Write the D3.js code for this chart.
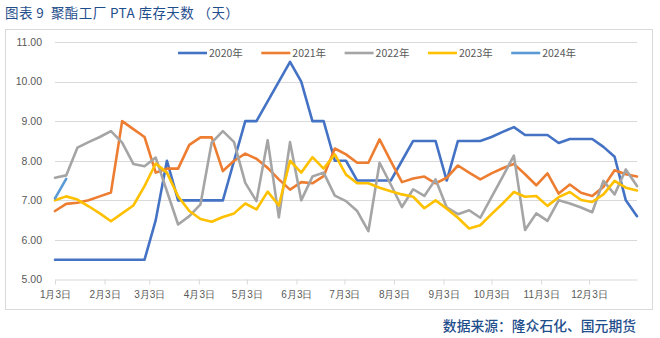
<!DOCTYPE html>
<html>
<head>
<meta charset="utf-8">
<script src="https://cdn.jsdelivr.net/npm/d3@7"></script>
<style>
  html, body { margin: 0; padding: 0; background: #fff; }
  svg { display: block; font-family: "Noto Sans CJK SC", "Noto Sans", sans-serif; }
</style>
</head>
<body>
<div id="chart"></div>
<script>
// Weekly PTA inventory days at polyester plants, one series per year
const seriesNames = ["2020年", "2021年", "2022年", "2023年", "2024年"];
const seriesColors = ["#4472C4", "#ED7D31", "#A5A5A5", "#FFC000", "#5B9BD5"];

const v2020 = [5.5, 5.5, 5.5, 5.5, 5.5, 5.5, 5.5, 5.5, 5.5, 6.5,
  8.0, 7.0, 7.0, 7.0, 7.0, 7.0, 8.0, 9.0, 9.0, 9.5,
  10.0, 10.5, 10.0, 9.0, 9.0, 8.0, 8.0, 7.5, 7.5, 7.5,
  7.5, 8.0, 8.5, 8.5, 8.5, 7.5, 8.5, 8.5, 8.5, 8.6,
  8.73, 8.85, 8.65, 8.65, 8.65, 8.45, 8.55, 8.55, 8.55, 8.35,
  8.1, 7.0, 6.6];
const v2021 = [6.73, 6.91, 6.94, 7.0, 7.1, 7.2, 9.0, 8.8, 8.6, 7.7,
  7.8, 7.8, 8.4, 8.59, 8.59, 7.74, 8.0, 8.18, 8.05, 7.82,
  7.53, 7.27, 7.46, 7.43, 7.61, 8.31, 8.16, 7.95, 7.95, 8.54,
  7.99, 7.46, 7.55, 7.6, 7.43, 7.57, 7.88, 7.7, 7.53, 7.68,
  7.81, 7.92, 7.66, 7.38, 7.68, 7.17, 7.4, 7.19, 7.11, 7.34,
  7.76, 7.66, 7.6];
const v2022 = [7.57, 7.63, 8.33, 8.47, 8.6, 8.75, 8.46, 7.92, 7.86, 8.08,
  7.23, 6.39, 6.6, 6.9, 8.46, 8.75, 8.47, 7.44, 6.98, 8.52,
  6.57, 8.47, 7.0, 7.6, 7.7, 7.12, 6.98, 6.73, 6.22, 7.95,
  7.4, 6.83, 7.28, 7.11, 7.53, 6.82, 6.65, 6.75, 6.56, 7.08,
  7.6, 8.13, 6.25, 6.67, 6.48, 7.0, 6.92, 6.82, 6.7, 7.49,
  7.15, 7.78, 7.36];
const v2023 = [7.0, 7.1, 7.02, 6.85, 6.67, 6.47, 6.67, 6.87, 7.36, 7.93,
  7.7, 7.1, 6.73, 6.53, 6.46, 6.58, 6.67, 6.92, 6.77, 7.22,
  6.87, 8.0, 7.7, 8.09, 7.8, 8.16, 7.65, 7.43, 7.43, 7.32,
  7.23, 7.15, 7.09, 6.8, 7.0, 6.79, 6.56, 6.29, 6.37, 6.65,
  6.92, 7.21, 7.09, 7.11, 6.86, 7.08, 7.21, 7.01, 6.96, 7.15,
  7.49, 7.32, 7.25];
const v2024 = [7.05, 7.54];
const seriesValues = [v2020, v2021, v2022, v2023, v2024];

const yTicks = [5, 6, 7, 8, 9, 10, 11];
const monthLabels = ["1月3日", "2月3日", "3月3日", "4月3日", "5月3日", "6月3日",
  "7月3日", "8月3日", "9月3日", "10月3日", "11月3日", "12月3日"];

const titleText = "图表 9  聚酯工厂 PTA 库存天数 （天）";
const sourceText = "数据来源：隆众石化、国元期货";

// Calendar used for the shared month/day axis
const start = new Date(2023, 0, 3);
const end = d3.timeDay.offset(start, 364);
const weekDate = i => d3.timeDay.offset(start, 7 * i);
const tickDates = monthLabels.map((_, m) => new Date(2023, m, 3));

const W = 660, H = 338;
const svg = d3.select("#chart").append("svg").attr("width", W).attr("height", H);

// Chart frame
svg.append("rect")
  .attr("x", 5.5).attr("y", 29.5).attr("width", 647).attr("height", 280)
  .attr("fill", "none").attr("stroke", "#D9D9D9").attr("stroke-width", 1);

svg.append("text")
  .attr("x", 5).attr("y", 18)
  .attr("fill", "#1F4E8C").attr("font-size", 13.5).attr("letter-spacing", 0.4)
  .attr("xml:space", "preserve").style("white-space", "pre")
  .text(titleText);

svg.append("text")
  .attr("x", 636).attr("y", 331)
  .attr("text-anchor", "end")
  .attr("fill", "#1F4E8C").attr("font-size", 13.8).attr("font-weight", 500)
  .text(sourceText);

const x = d3.scaleTime().domain([start, end]).range([55, 637]);
const y = d3.scaleLinear().domain([5, 11]).range([279.5, 42]);

// Horizontal gridlines
svg.append("g")
  .selectAll("line")
  .data(yTicks.filter(v => v > 5))
  .join("line")
  .attr("x1", 55).attr("x2", 637)
  .attr("y1", d => Math.round(y(d)) + 0.5).attr("y2", d => Math.round(y(d)) + 0.5)
  .attr("stroke", "#D9D9D9").attr("stroke-width", 1);

// Y axis labels
const yAxis = d3.axisLeft(y).tickValues(yTicks).tickFormat(d3.format(".2f")).tickSize(0).tickPadding(0);
const gy = svg.append("g").attr("transform", "translate(42,0)").call(yAxis);
gy.select(".domain").remove();
gy.selectAll("text").attr("fill", "#595959").attr("font-size", 10.5)
  .attr("font-family", "Liberation Sans, Arial, sans-serif");

// X axis
const xAxis = d3.axisBottom(x).tickValues(tickDates)
  .tickFormat((d, i) => monthLabels[i]).tickSize(5).tickSizeOuter(0).tickPadding(6);
const gx = svg.append("g").attr("transform", "translate(0,279.5)").call(xAxis);
gx.select(".domain").attr("stroke", "#D9D9D9");
gx.selectAll(".tick line").attr("stroke", "#D9D9D9");
gx.selectAll("text").attr("fill", "#595959").attr("font-size", 10);

// Series lines
const line = d3.line()
  .x((d, i) => x(weekDate(i)))
  .y(d => y(d));

svg.append("g")
  .selectAll("path")
  .data(seriesValues)
  .join("path")
  .attr("d", d => line(d))
  .attr("fill", "none")
  .attr("stroke", (d, i) => seriesColors[i])
  .attr("stroke-width", 2.6)
  .attr("stroke-linejoin", "round")
  .attr("stroke-linecap", "round");

// Legend
const legend = svg.append("g")
  .selectAll("g")
  .data(seriesNames)
  .join("g")
  .attr("transform", (d, i) => `translate(${178 + i * 83.3},53)`);
legend.append("line")
  .attr("x1", 0).attr("x2", 29).attr("y1", 0).attr("y2", 0)
  .attr("stroke", (d, i) => seriesColors[i]).attr("stroke-width", 2.6);
legend.append("text")
  .attr("x", 31).attr("y", 4)
  .attr("fill", "#595959").attr("font-size", 10.5)
  .text(d => d);
</script>
</body>
</html>
